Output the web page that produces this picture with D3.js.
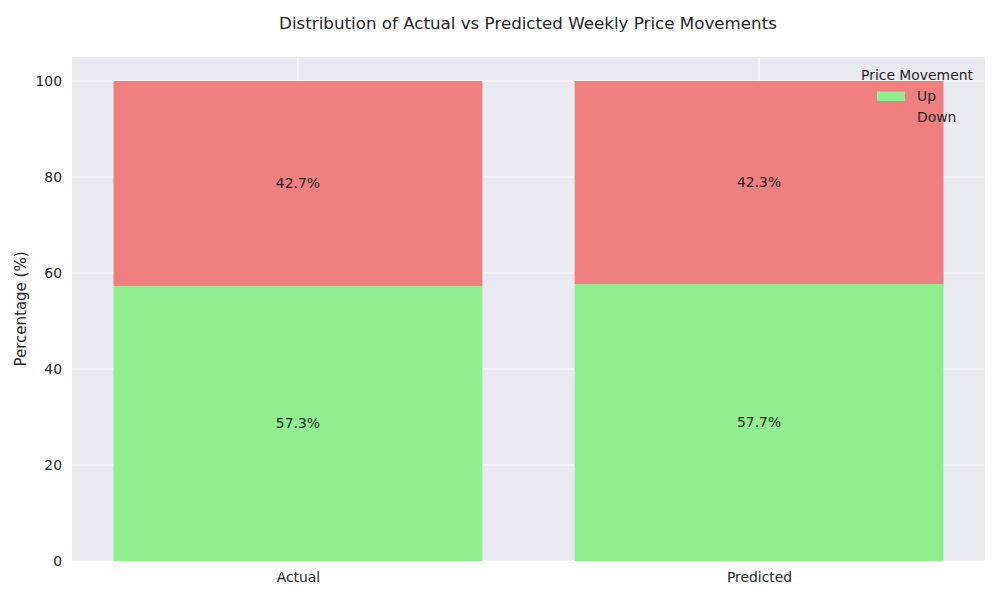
<!DOCTYPE html>
<html>
<head>
<meta charset="utf-8">
<title>Price movements</title>
<script src="https://cdn.jsdelivr.net/npm/d3@7/dist/d3.min.js"></script>
<style>
  body { margin: 0; background: #fff; }
  svg text { font-family: "DejaVu Sans", sans-serif; fill: #262626; }
</style>
</head>
<body>
<svg id="chart" width="1000" height="600"></svg>
<script>
var categories = ["Actual", "Predicted"];
var upValues = [57.3, 57.7];
var downValues = [42.7, 42.3];
var seriesNames = ["Up", "Down"];
var seriesColors = ["#90ee90", "#f08080"];
var yTicks = [0, 20, 40, 60, 80, 100];

var margin = {top: 57, right: 15, bottom: 39, left: 72},
    width = 1000 - margin.left - margin.right,
    height = 600 - margin.top - margin.bottom;

var svg = d3.select("#chart");
var g = svg.append("g").attr("transform", "translate(" + margin.left + "," + margin.top + ")");

var x = d3.scaleLinear().domain([-0.49, 1.49]).range([0, width]);
var y = d3.scaleLinear().domain([0, 105]).range([height, 0]);
var barW = x(0.8) - x(0);

g.append("rect").attr("width", width).attr("height", height).attr("fill", "#eaeaf2");

// grid
g.selectAll(".hgrid").data(yTicks).enter().append("line")
  .attr("x1", 0).attr("x2", width)
  .attr("y1", function(d){ return y(d); }).attr("y2", function(d){ return y(d); })
  .attr("stroke", "#fff").attr("stroke-width", 1.1);
g.selectAll(".vgrid").data(categories).enter().append("line")
  .attr("x1", function(d, i){ return x(i); }).attr("x2", function(d, i){ return x(i); })
  .attr("y1", 0).attr("y2", height)
  .attr("stroke", "#fff").attr("stroke-width", 1.1);

// stacked data
var rows = categories.map(function(c, i){ return {cat: c, i: i, Up: upValues[i], Down: downValues[i]}; });
var stack = d3.stack().keys(seriesNames)(rows);

stack.forEach(function(layer, k){
  g.selectAll(".bar" + k).data(layer).enter().append("rect")
    .attr("x", function(d){ return x(d.data.i) - barW / 2; })
    .attr("width", barW)
    .attr("y", function(d){ return y(d[1]); })
    .attr("height", function(d){ return y(d[0]) - y(d[1]); })
    .attr("fill", seriesColors[k]);
  g.selectAll(".lab" + k).data(layer).enter().append("text")
    .attr("x", function(d){ return x(d.data.i); })
    .attr("y", function(d){ return y((d[0] + d[1]) / 2); })
    .attr("text-anchor", "middle").attr("dy", "0.35em")
    .style("font-size", "13.9px")
    .text(function(d){ return (d[1] - d[0]).toFixed(1) + "%"; });
});

// axes
var yAxis = g.append("g").call(d3.axisLeft(y).tickValues(yTicks).tickSize(0).tickPadding(10));
yAxis.select(".domain").remove();
yAxis.selectAll("text").style("font-size", "13.9px");

var xAxis = g.append("g").attr("transform", "translate(0," + height + ")")
  .call(d3.axisBottom(x).tickValues([0, 1]).tickSize(0).tickPadding(11)
    .tickFormat(function(d){ return categories[d]; }));
xAxis.select(".domain").remove();
xAxis.selectAll("text").style("font-size", "13.9px");

svg.append("text")
  .attr("transform", "translate(26," + (margin.top + height / 2) + ") rotate(-90)")
  .attr("text-anchor", "middle").style("font-size", "15px")
  .text("Percentage (%)");

svg.append("text").attr("x", 528).attr("y", 29)
  .attr("text-anchor", "middle").style("font-size", "16.7px")
  .text("Distribution of Actual vs Predicted Weekly Price Movements");

// legend
var legend = svg.append("g").attr("transform", "translate(877,0)");
legend.append("text").attr("x", 40).attr("y", 80).attr("text-anchor", "middle")
  .style("font-size", "13.9px").text("Price Movement");
seriesNames.forEach(function(name, k){
  var ly = 96 + k * 21;
  legend.append("rect").attr("x", 0).attr("y", ly - 4.5).attr("width", 28).attr("height", 9.5)
    .attr("fill", seriesColors[k]);
  legend.append("text").attr("x", 40).attr("y", ly).attr("dy", "0.35em")
    .style("font-size", "13.9px").text(name);
});
</script>
</body>
</html>
